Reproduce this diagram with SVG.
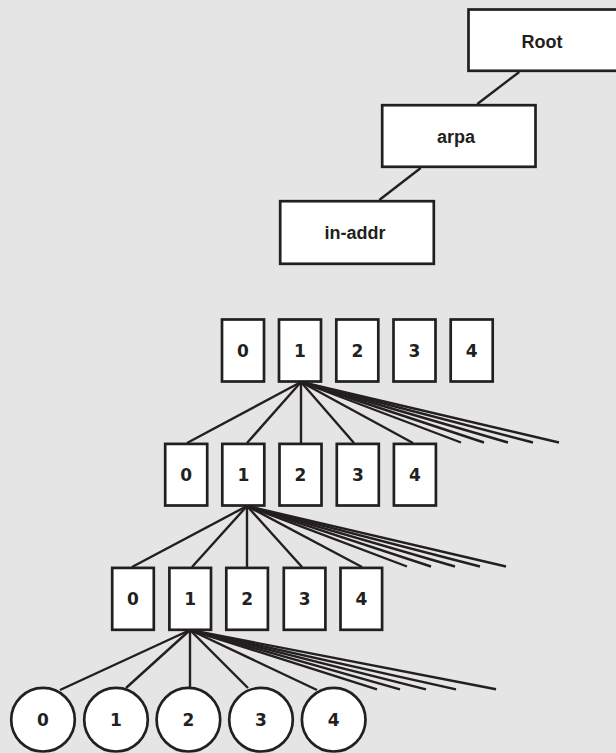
<svg xmlns="http://www.w3.org/2000/svg" width="616" height="753" viewBox="0 0 616 753">
<style>
.bg{fill:#e5e5e5}
.box{fill:#ffffff;stroke:#231f20;stroke-width:2.7}
.lbl{font-family:"Liberation Sans",Arial,sans-serif;font-weight:bold;font-size:18px;fill:#231f20;text-anchor:middle}
.dig{font-family:"DejaVu Sans",sans-serif;font-weight:bold;font-size:17px;fill:#231f20;text-anchor:middle}
.edge{stroke:#231f20;stroke-width:2.4;fill:none}
</style>
<rect class="bg" x="0" y="0" width="616" height="753"/>
<g id="connectors" class="edge">
<line x1="519.3" y1="72" x2="477.3" y2="104"/>
<line x1="420.7" y1="168" x2="379.3" y2="200"/>
<line x1="301" y1="382" x2="187" y2="443"/>
<line x1="301" y1="382" x2="247" y2="443"/>
<line x1="301" y1="382" x2="301" y2="443"/>
<line x1="301" y1="382" x2="354" y2="443"/>
<line x1="301" y1="382" x2="413" y2="443"/>
<line x1="301" y1="382" x2="461" y2="442.5"/>
<line x1="301" y1="382" x2="484" y2="442.5"/>
<line x1="301" y1="382" x2="508" y2="442.5"/>
<line x1="301" y1="382" x2="533" y2="442.5"/>
<line x1="301" y1="382" x2="559" y2="442.5"/>
<line x1="247" y1="506" x2="132" y2="567"/>
<line x1="247" y1="506" x2="192" y2="567"/>
<line x1="247" y1="506" x2="247" y2="567"/>
<line x1="247" y1="506" x2="302" y2="567"/>
<line x1="247" y1="506" x2="362" y2="567"/>
<line x1="247" y1="506" x2="407" y2="566.5"/>
<line x1="247" y1="506" x2="431" y2="566.5"/>
<line x1="247" y1="506" x2="455" y2="566.5"/>
<line x1="247" y1="506" x2="480" y2="566.5"/>
<line x1="247" y1="506" x2="506" y2="566.5"/>
<line x1="190" y1="630" x2="60" y2="690"/>
<line x1="190" y1="630" x2="126" y2="688"/>
<line x1="190" y1="630" x2="190" y2="688"/>
<line x1="190" y1="630" x2="248" y2="688"/>
<line x1="190" y1="630" x2="317" y2="690"/>
<line x1="190" y1="630" x2="377" y2="689.3"/>
<line x1="190" y1="630" x2="400" y2="689.3"/>
<line x1="190" y1="630" x2="426" y2="689.3"/>
<line x1="190" y1="630" x2="456" y2="689.3"/>
<line x1="190" y1="630" x2="496" y2="689.3"/>
</g>
<g id="root"><rect class="box" x="468.5" y="9.5" width="160" height="61.3"/><text class="lbl" x="542" y="47.5">Root</text></g>
<g id="arpa"><rect class="box" x="382.2" y="105.2" width="153.3" height="61.6"/><text class="lbl" x="456" y="142.5">arpa</text></g>
<g id="in-addr"><rect class="box" x="280.2" y="201.2" width="153.6" height="62.6"/><text class="lbl" x="355" y="238.5">in-addr</text></g>
<g id="r1-0"><rect class="box" x="222" y="319.5" width="42" height="62"/><text class="dig" x="243" y="357">0</text></g>
<g id="r1-1"><rect class="box" x="279" y="319.5" width="42" height="62"/><text class="dig" x="300" y="357">1</text></g>
<g id="r1-2"><rect class="box" x="336.3" y="319.5" width="42" height="62"/><text class="dig" x="357.3" y="357">2</text></g>
<g id="r1-3"><rect class="box" x="393.5" y="319.5" width="42" height="62"/><text class="dig" x="414.5" y="357">3</text></g>
<g id="r1-4"><rect class="box" x="450.7" y="319.5" width="42" height="62"/><text class="dig" x="471.7" y="357">4</text></g>
<g id="r2-0"><rect class="box" x="165.2" y="443.9" width="42" height="61.6"/><text class="dig" x="186.2" y="481">0</text></g>
<g id="r2-1"><rect class="box" x="222.3" y="443.9" width="42" height="61.6"/><text class="dig" x="243.3" y="481">1</text></g>
<g id="r2-2"><rect class="box" x="279.5" y="443.9" width="42" height="61.6"/><text class="dig" x="300.5" y="481">2</text></g>
<g id="r2-3"><rect class="box" x="336.8" y="443.9" width="42" height="61.6"/><text class="dig" x="357.8" y="481">3</text></g>
<g id="r2-4"><rect class="box" x="393.9" y="443.9" width="42" height="61.6"/><text class="dig" x="414.9" y="481">4</text></g>
<g id="r3-0"><rect class="box" x="112.2" y="567.9" width="41.6" height="61.9"/><text class="dig" x="133" y="605">0</text></g>
<g id="r3-1"><rect class="box" x="169.4" y="567.9" width="41.6" height="61.9"/><text class="dig" x="190.2" y="605">1</text></g>
<g id="r3-2"><rect class="box" x="226.3" y="567.9" width="41.6" height="61.9"/><text class="dig" x="247.1" y="605">2</text></g>
<g id="r3-3"><rect class="box" x="283.8" y="567.9" width="41.6" height="61.9"/><text class="dig" x="304.6" y="605">3</text></g>
<g id="r3-4"><rect class="box" x="340.5" y="567.9" width="41.6" height="61.9"/><text class="dig" x="361.3" y="605">4</text></g>
<g id="c-0"><circle class="box" cx="43" cy="719.7" r="31.8"/><text class="dig" x="43" y="726">0</text></g>
<g id="c-1"><circle class="box" cx="116" cy="719.7" r="31.8"/><text class="dig" x="116" y="726">1</text></g>
<g id="c-2"><circle class="box" cx="188.4" cy="719.7" r="31.8"/><text class="dig" x="188.4" y="726">2</text></g>
<g id="c-3"><circle class="box" cx="261" cy="719.7" r="31.8"/><text class="dig" x="261" y="726">3</text></g>
<g id="c-4"><circle class="box" cx="333.7" cy="719.7" r="31.8"/><text class="dig" x="333.7" y="726">4</text></g>
</svg>
